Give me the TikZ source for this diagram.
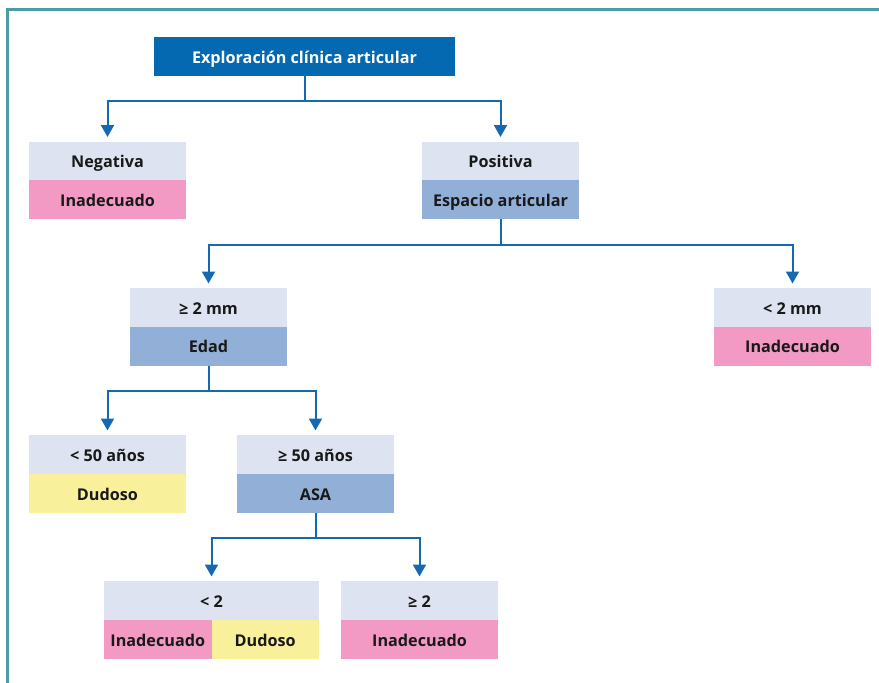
\documentclass[tikz,border=0pt]{standalone}
\usepackage{fontspec}
\setmainfont{Open Sans}
\usetikzlibrary{arrows.meta}
\definecolor{darkblue}{HTML}{0469B0}
\definecolor{lightrow}{HTML}{DDE3F0}
\definecolor{midblue}{HTML}{91AFD7}
\definecolor{pinkrow}{HTML}{F29AC4}
\definecolor{yellowrow}{HTML}{F8F09B}
\definecolor{connblue}{HTML}{1569B0}
\definecolor{frameteal}{HTML}{4E9BA3}
\tikzset{
  cell/.style={inner sep=0pt, outer sep=0pt, minimum height=39pt, minimum width=157pt,
    text height=13pt, text depth=0pt,
    font=\fontsize{16.2}{18}\selectfont\bfseries, text=black!90},
  headcell/.style={cell, fill=lightrow},
  bluecell/.style={cell, fill=midblue},
  pinkcell/.style={cell, fill=pinkrow},
  yellowcell/.style={cell, fill=yellowrow},
  conn/.style={draw=connblue, line width=2pt},
  arr/.style={conn, -{Triangle[width=13pt,length=12pt]}, shorten >=4.5pt},
}
\begin{document}
\begin{tikzpicture}[x=1pt,y=-1pt]
\useasboundingbox (0,0) rectangle (879,683);
\draw[frameteal, line width=2.5pt] (7.5,683) -- (7.5,9.5) -- (879,9.5);

\node[cell, fill=darkblue, text=white, minimum width=301pt, minimum height=39pt] (top) at (304.5,56.5) {Exploración clínica articular};

\node[headcell] (neg) at (107.5,161) {Negativa};
\node[pinkcell] (negr) at (107.5,199.5) {Inadecuado};
\node[headcell] (pos) at (500.5,161) {Positiva};
\node[bluecell] (posr) at (500.5,199.5) {Espacio articular};

\node[headcell] (ge2mm) at (208.5,307.5) {≥ 2 mm};
\node[bluecell] (edad) at (208.5,346) {Edad};
\node[headcell] (lt2mm) at (792.5,307.5) {< 2 mm};
\node[pinkcell] (lt2mmr) at (792.5,346) {Inadecuado};

\node[headcell] (lt50) at (107.5,454.5) {< 50 años};
\node[yellowcell] (lt50r) at (107.5,493.5) {Dudoso};
\node[headcell] (ge50) at (315.5,454.5) {≥ 50 años};
\node[bluecell] (asa) at (315.5,493.5) {ASA};

\node[headcell, minimum width=215pt] (lt2) at (211.5,600.5) {< 2};
\node[pinkcell, minimum width=107.5pt] (lt2a) at (157.75,639.5) {Inadecuado};
\node[yellowcell, minimum width=107.5pt] (lt2b) at (265.25,639.5) {Dudoso};
\node[headcell] (ge2) at (419.5,600.5) {≥ 2};
\node[pinkcell] (ge2r) at (419.5,639.5) {Inadecuado};

\coordinate (j1) at (304.5,100.5);
\coordinate (j2) at (500.5,244.5);
\coordinate (j3) at (208.5,391);
\coordinate (j4) at (315.5,538);

\draw[conn] (top.south) -- (j1);
\draw[arr] (j1) -| (neg.north);
\draw[arr] (j1) -| (pos.north);

\draw[conn] (posr.south) -- (j2);
\draw[arr] (j2) -| (ge2mm.north);
\draw[arr] (j2) -| (lt2mm.north);

\draw[conn] (edad.south) -- (j3);
\draw[arr] (j3) -| (lt50.north);
\draw[arr] (j3) -| (ge50.north);

\draw[conn] (asa.south) -- (j4);
\draw[arr] (j4) -| (lt2.north);
\draw[arr] (j4) -| (ge2.north);
\end{tikzpicture}
\end{document}
